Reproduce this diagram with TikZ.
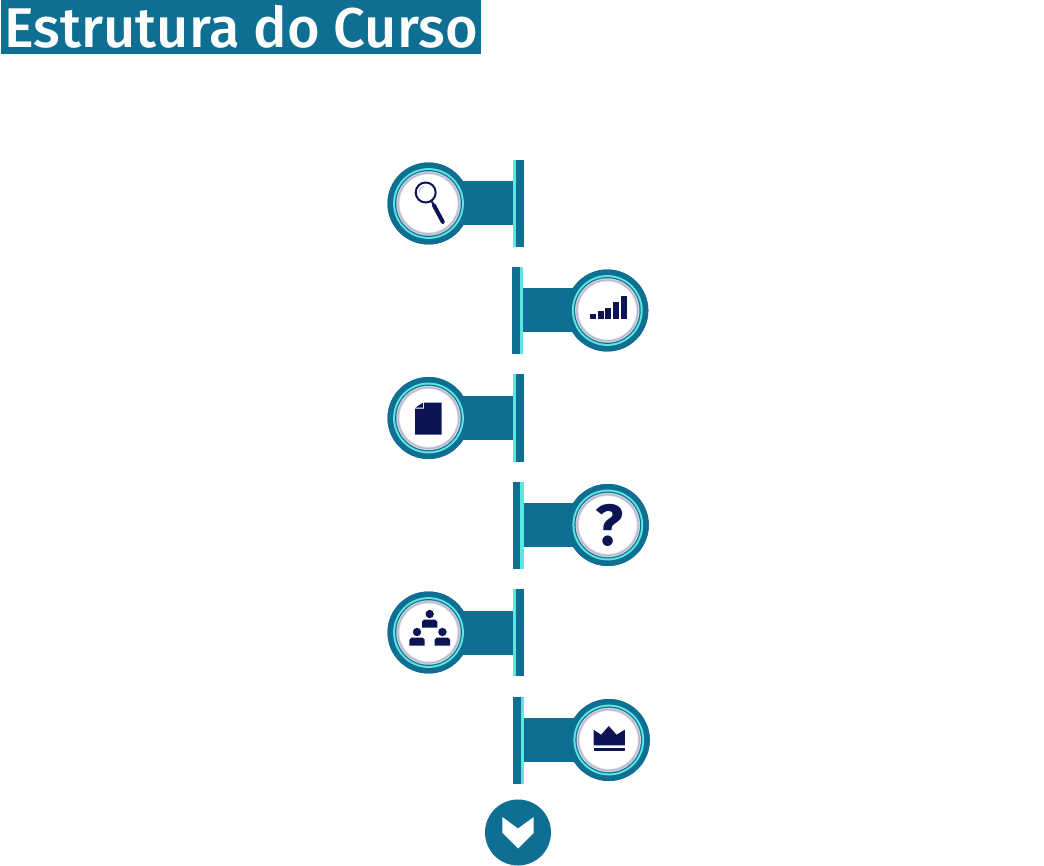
\documentclass[tikz,border=0pt]{standalone}
\usepackage{fontspec}
\setmainfont{Fira Sans}
\newfontfamily\titlefont{Fira Sans Medium}
\newfontfamily\qfont{Fira Sans}
\definecolor{teal1}{HTML}{0F6F93}
\definecolor{navy1}{HTML}{0C1456}
\definecolor{cyan1}{HTML}{5CE6E0}
\definecolor{grey1}{HTML}{B4B6CC}
\tikzset{
  band/.style={draw=teal1,line width=44pt},
  barbox/.style={fill=teal1,minimum width=11pt,minimum height=87pt,inner sep=0pt,outer sep=0pt},
  disc/.style={circle,fill=teal1,minimum size=82pt,inner sep=0pt,outer sep=0pt},
  icon/.style={fill=navy1,draw=none}
}
\newcommand{\discrings}[1]{%
  \fill[cyan1] (#1) circle (35.4);
  \fill[teal1] (#1) circle (33.4);
  \fill[grey1!60] (#1) circle (32.2);
  \fill[grey1] (#1) circle (31);
  \fill[grey1!50] (#1) circle (29.8);
  \fill[white] (#1) circle (28.9);
}
\newcommand{\leftrow}[4]{% name, circle x, bar x, y
  \node[barbox] (bar#1) at (#3,#4) {};
  \node[disc] (disc#1) at (#2,#4) {};
  \draw[band] (disc#1.center) -- (bar#1.center);
  \node[disc] at (disc#1) {};
  \node[barbox] at (bar#1) {};
  \fill[cyan1] ([xshift=-5.5pt]bar#1.center) ++(0,-43.5) rectangle ++(3.5,87);
  \discrings{disc#1}
}
\newcommand{\rightrow}[4]{%
  \node[barbox] (bar#1) at (#3,#4) {};
  \node[disc] (disc#1) at (#2,#4) {};
  \draw[band] (disc#1.center) -- (bar#1.center);
  \node[disc] at (disc#1) {};
  \node[barbox] at (bar#1) {};
  \fill[cyan1] ([xshift=2pt]bar#1.center) ++(0,-43.5) rectangle ++(3.5,87);
  \discrings{disc#1}
}
\begin{document}
\begin{tikzpicture}[x=1pt,y=-1pt]
\useasboundingbox (0,0) rectangle (1044,866);
\fill[white] (0,0) rectangle (1044,866);
% title
\node[fill=teal1,text=white,anchor=north west,inner sep=0pt,outer sep=0pt,minimum width=480pt,minimum height=54.5pt,font=\titlefont\fontsize{56}{56}\selectfont] (title) at (1,0) {\raisebox{-.5pt}{Estrutura do Curso}};
% rows
\leftrow{a}{428.5}{518}{203.5}
\rightrow{b}{607.3}{517.7}{310.5}
\leftrow{c}{428.5}{518}{418}
\rightrow{d}{607.8}{518.2}{525}
\leftrow{e}{428.5}{518}{632.5}
\rightrow{f}{608.8}{518.7}{740}
% magnifier
\begin{scope}[shift={(disca)}]
  \draw[navy1,line width=2pt] (-2.8,-11) circle (10);
  \draw[white!60!navy1,line width=.7pt] (-9.5,-11) arc (180:250:7);
  \draw[navy1,line width=2pt] (3.3,-2) -- (5.5,2);
  \draw[navy1,line width=4pt,line cap=round] (5.5,2) -- (14.3,18.4);
\end{scope}
% signal bars
\begin{scope}[shift={(discb)}]
  \fill[icon] (-17.7,3.3) rectangle (-11.7,9);
  \fill[icon] (-9.7,0.6) rectangle (-3.7,9);
  \fill[icon] (-2,-2.7) rectangle (4,9);
  \fill[icon] (6,-8.7) rectangle (12,9);
  \fill[icon] (13.7,-14.7) rectangle (19.7,9);
\end{scope}
% document
\begin{scope}[shift={(discc)}]
  \fill[icon] (-4.5,-15.3) -- (13,-15.3) -- (13,16.7) -- (-13.3,16.7) -- (-13.3,-9.3) -- (-4.5,-9.3) -- cycle;
  \fill[icon] (-13,-10.5) -- (-5.5,-10.5) -- (-5.5,-15.3) -- cycle;
\end{scope}
% question mark
\node[text=navy1,inner sep=0pt,font=\qfont\bfseries\fontsize{58}{58}\selectfont] (q) at (609.5,525.5) {?};
% people
\begin{scope}[shift={(disce)},xshift=1.2pt]
  \foreach \dx/\dy in {0/-18.5,-12.7/-0.5,12.7/-0.5}{
    \fill[icon] (\dx,\dy) circle (4.2);
    \fill[icon] (\dx-7.7,\dy+13.7) -- (\dx-7.7,\dy+7.7) to[out=-90,in=180] (\dx-5.7,\dy+5.7) -- (\dx+5.7,\dy+5.7) to[out=0,in=-90] (\dx+7.7,\dy+7.7) -- (\dx+7.7,\dy+13.7) -- cycle;
  }
\end{scope}
% crown
\begin{scope}[shift={(discf)}]
  \fill[icon] (-15.3,5.3) -- (-15.3,-10.3) -- (-7.7,-5.3) -- (0,-14) -- (7.7,-5.3) -- (16,-10.3) -- (16,5.3) -- cycle;
  \fill[icon] (-15.3,8) rectangle (16,11.3);
\end{scope}
% chevron button
\node[circle,fill=teal1,minimum size=66pt,inner sep=0pt] (more) at (518,832.5) {};
\fill[white,shift={(more)}] (-15.7,-15.5) -- (0,-4) -- (15.7,-15.5) -- (15.7,0.3) -- (0,16) -- (-15.7,0.3) -- cycle;
\end{tikzpicture}
\end{document}
